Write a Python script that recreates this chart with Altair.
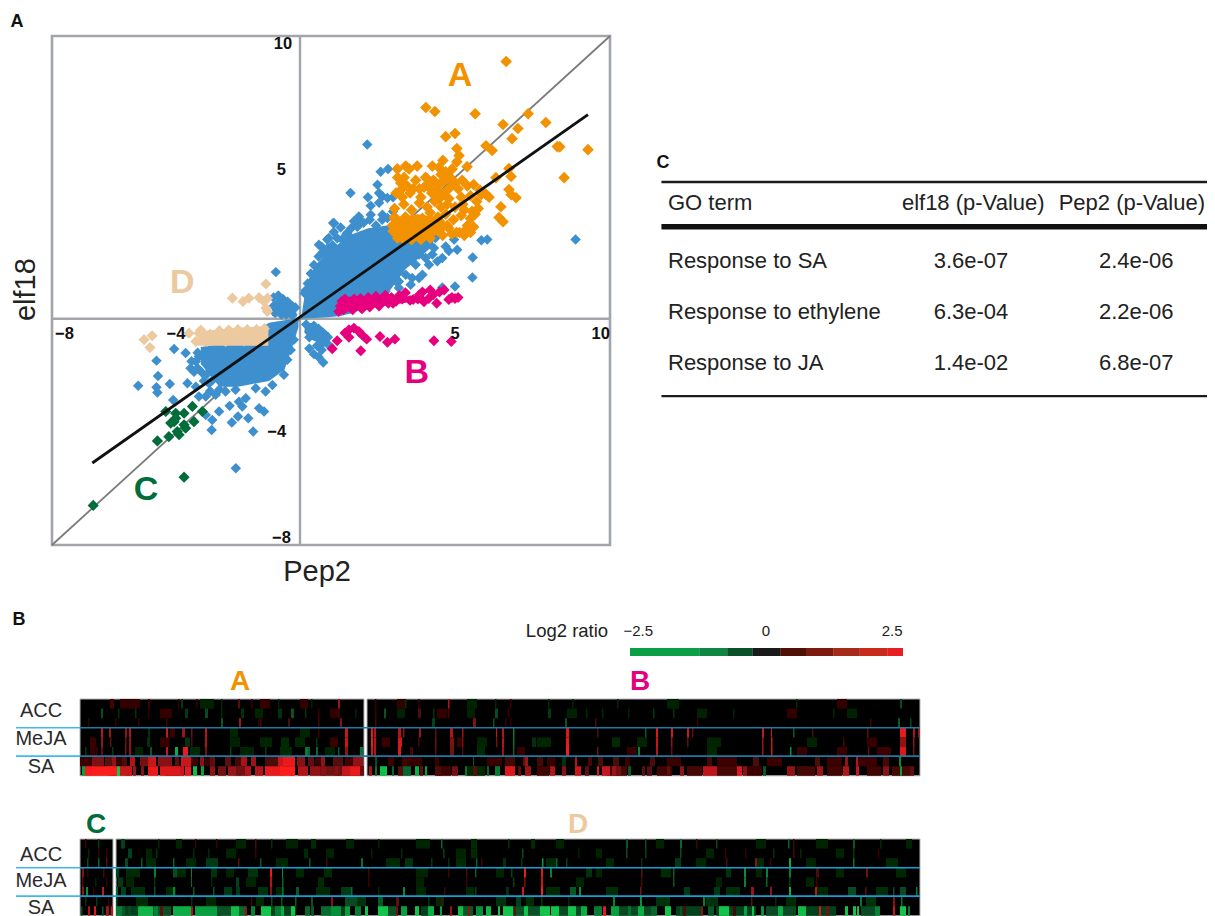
import altair as alt
import pandas as pd

# ---------- Panel A: scatter values (Pep2, elf18) ----------
orange_x = [6.65,4.06,4.35,5.65,7.36,6.55,7.03,7.93,4.7,5.0,6.84,6.0,6.2,8.3,8.38,9.29,8.52,5.06,5.13,5.06,5.39,6.74,6.81,6.32,6.74,6.81,6.97,6.48,6.42,6.55,
 3.14,3.41,3.52,3.78,4.27,4.61,4.48,4.91,3.36,3.25,3.73,4.1,4.05,4.65,4.75,5.02,5.23,
 3.1,3.3,3.55,3.9,4.2,4.4,4.6,4.85,5.1,5.4,5.6,5.8,6.0,5.5,5.2,5.25,5.7,5.85,6.1,
 3.05,3.35,3.6,3.85,4.1,4.35,4.55,4.75,5.0,5.3,5.55,5.75,
 3.1,3.4,3.7,3.95,4.2,4.45,4.7,4.95,5.2,5.4,5.6,
 3.0,3.2,3.45,3.75,4.0,4.3,4.55,4.8,5.05,5.3,5.5,
 4.5,4.6,4.7,4.8,4.55,4.7,4.85,4.35,4.5,4.25,4.4,4.15,4.3,4.0,3.85,3.65,3.45,3.25,3.15,3.05,
 3.5,3.75,4.0,4.25,4.5,4.75,3.3,3.6,3.9,4.2,4.6,4.9,5.15,2.98,3.05,3.15,5.35,5.5,5.65]
orange_y = [9.1,7.47,7.33,7.25,7.25,6.87,6.73,6.94,6.44,6.55,6.37,6.12,5.95,6.09,6.08,5.98,4.99,6.02,5.77,5.55,5.38,5.31,5.03,4.99,4.57,4.39,4.28,3.96,3.58,3.43,
 5.3,5.4,5.3,5.4,5.4,5.6,5.35,5.3,5.0,4.8,4.9,4.95,5.0,4.9,4.95,4.8,4.9,
 4.45,4.3,4.45,4.3,4.6,4.55,4.4,4.65,4.6,4.7,4.75,4.55,4.4,4.35,4.3,4.05,4.15,4.4,4.3,
 3.9,4.05,3.85,4.1,3.95,4.15,3.95,4.05,3.95,3.85,3.8,3.9,
 3.5,3.6,3.5,3.55,3.75,3.6,3.7,3.5,3.65,3.3,3.25,
 3.1,3.0,3.2,3.05,3.15,3.1,3.25,3.2,3.05,2.95,3.05,
 4.25,4.85,4.5,4.25,5.1,5.2,5.0,4.85,4.75,4.45,4.3,4.75,4.9,4.65,4.6,4.6,4.7,4.55,5.0,3.6,
 3.45,3.3,3.4,3.35,3.45,3.3,2.85,2.8,2.8,2.85,2.95,3.0,3.05,3.3,3.55,2.85,3.15,3.55,3.7]
orange_core_x = [3.0,3.2,3.8,4.4,4.8]
orange_core_top = [3.2,3.6,3.7,3.6,3.3]
orange_core_bot = [2.9,2.78,2.78,2.95,3.2]

blue_x = [-4.06,-3.69,-4.63,-4.58,-4.2,-5.22,-4.63,-4.6,-4.09,-3.53,-3.42,-3.63,-3.36,-3.26,-2.85,-2.61,-2.27,-2.0,-2.2,-1.67,-1.51,-2.07,-1.32,-1.16,-2.83,-1.86,-3.04,
 -0.78,1.07,1.09,0.88,0.7,0.73,0.95,0.18,
 2.17,2.6,2.84,2.5,2.55,1.63,2.19,2.66,2.82,3.0,2.55,2.28,2.28,1.9,1.96,1.74,1.1,1.31,2.66,2.82,3.0,1.53,1.64,0.93,0.61,0.99,
 8.89,5.85,6.04,4.97,4.7,5.07,5.57,4.43,5.56,5.0,4.59,3.84,4.27,3.62,3.95,3.19,4.16,4.59,3.84,4.37,4.8,
 -0.85,-0.7,-0.55,-0.4,-0.25,-0.15,-0.85,-0.7,-0.55,-0.4,-0.25,-0.8,-0.6,-0.45,-0.25,-0.7,-0.5,
 0.2,0.3,0.45,0.6,0.75,0.9,0.3,0.45,0.6,0.75,0.55,0.7,0.95,0.3,0.45,0.75,0.6,
 -3.3,-3.5,-3.05,-3.3,-3.0,-2.85,-2.6,-2.9,-3.1,
 -3.04,-2.72,-2.4,-2.08,-1.75,-1.97,-1.43,-1.11,-0.89,-0.52,-0.41,-0.3,-0.2,-3.26,-3.36,-3.15,-2.94,
 0.15,0.25,0.35,0.45,0.6,0.75,0.9,1.05,1.2,1.35,1.5,1.65,1.85,2.05,2.25,2.45,2.65,
 3.09,3.41,3.73,4.05,4.32,3.84,3.57,3.19,2.76]
blue_y = [-1.07,-1.21,-1.48,-2.02,-2.31,-2.37,-2.42,-2.61,-2.87,-1.75,-1.87,-2.28,-2.4,-2.75,-3.93,-3.28,-3.08,-3.46,-3.67,-3.52,-3.99,-5.29,-3.16,-3.28,-3.58,-3.1,-3.4,
 1.65,3.39,3.07,2.8,2.55,2.35,2.4,1.0,
 6.16,5.2,5.3,4.74,4.45,4.45,4.3,4.33,4.27,4.3,4.1,4.0,3.68,3.62,3.45,3.45,3.38,3.23,3.68,3.56,3.79,3.04,2.86,2.86,2.62,2.44,
 2.8,2.78,2.8,2.8,2.56,2.44,2.17,2.03,1.46,1.14,1.11,2.27,2.27,1.44,1.56,1.32,1.91,2.15,2.7,2.86,2.4,
 0.75,0.82,0.7,0.6,0.45,0.4,0.45,0.35,0.4,0.2,0.15,0.2,0.15,0.15,0.12,0.55,0.5,
 -0.2,-0.45,-0.25,-0.35,-0.5,-0.65,-0.65,-0.55,-0.7,-0.85,-0.95,-1.1,-0.95,-1.05,-1.25,-1.55,-1.35,
 -1.2,-1.5,-1.45,-1.75,-1.95,-2.2,-2.5,-2.55,-2.2,
 -2.75,-2.69,-2.57,-2.51,-2.81,-2.93,-2.46,-2.57,-2.34,-1.98,-1.45,-1.1,-0.74,-1.33,-1.51,-1.92,-2.28,
 0.9,1.25,1.6,1.9,2.2,2.35,2.5,2.6,2.85,2.8,3.0,3.2,3.25,3.4,3.5,3.3,3.5,
 1.33,1.56,1.91,2.15,2.5,1.44,1.2,1.09,0.97]
blue_pos_x = [0.05,0.2,0.5,0.9,1.3,1.7,2.2,2.8,3.4,3.9,4.3]
blue_pos_top = [0.1,1.2,1.9,2.35,2.7,3.0,3.2,3.3,3.2,3.0,2.9]
blue_pos_bot = [0.0,0.02,0.03,0.05,0.1,0.2,0.45,0.85,1.75,2.2,2.6]
blue_neg_x = [-3.2,-2.6,-2.0,-1.5,-1.0,-0.5,-0.25,-0.05]
blue_neg_top = [-1.0,-0.9,-0.7,-0.5,-0.14,-0.05,-0.02,0.0]
blue_neg_bot = [-1.6,-2.4,-2.4,-2.3,-2.2,-1.8,-1.0,-0.3]
blue_ul_x = [-0.9,-0.6,-0.3,-0.12]
blue_ul_top = [0.55,0.75,0.55,0.35]
blue_ul_bot = [0.1,0.08,0.08,0.08]
blue_lr_x = [0.15,0.4,0.7,0.95]
blue_lr_top = [-0.15,-0.15,-0.3,-0.5]
blue_lr_bot = [-0.5,-0.75,-0.9,-0.9]

pink_x = [1.25,1.3,1.35,1.45,1.5,1.6,1.7,1.75,1.85,1.95,2.0,2.1,2.2,2.25,2.35,2.45,2.55,2.65,2.75,2.85,2.95,3.1,3.2,3.3,3.4,3.55,3.65,3.8,3.85,3.95,4.0,4.15,4.2,4.3,4.41,4.5,4.65,4.8,4.9,5.0,5.1,1.4,1.65,2.8,3.0,
 1.2,1.04,1.58,1.74,1.9,1.58,2.0,2.15,1.96,2.58,2.82,3.06,4.32,4.88,1.45]
pink_y = [0.26,0.45,0.62,0.7,0.4,0.6,0.32,0.7,0.5,0.72,0.35,0.6,0.75,0.42,0.6,0.8,0.45,0.68,0.83,0.55,0.75,0.62,0.82,0.7,0.92,0.65,0.68,0.7,0.85,0.95,0.6,0.72,1.02,0.85,0.55,0.95,1.02,0.68,0.75,0.72,0.75,0.32,0.45,0.7,0.55,
 -0.78,-1.06,-0.39,-0.33,-0.45,-0.65,-0.57,-0.72,-1.13,-0.63,-0.83,-0.72,-0.78,-0.8,-0.5]
pink_core_x = [1.3,2.5,3.3,4.0]
pink_core_top = [0.6,0.72,0.78,0.85]
pink_core_bot = [0.3,0.42,0.55,0.68]

tan_x = [-1.1,-2.18,-1.84,-1.65,-1.32,-1.16,-1.05,-1.1,-1.05,-5.03,-4.77,-4.84,
 -3.58,-3.26,-3.36,-3.2,-2.9,-2.6,-2.3,-2.0,-1.7,-1.4,-1.15,-3.0,-2.7,-2.4,-2.1,-1.8,-1.5,-1.2]
tan_y = [1.23,0.73,0.61,0.73,0.75,0.61,0.73,0.38,0.26,-0.74,-0.6,-1.02,
 -0.51,-0.51,-0.8,-0.4,-0.55,-0.42,-0.4,-0.38,-0.38,-0.38,-0.35,-0.8,-0.75,-0.8,-0.75,-0.78,-0.75,-0.72]
tan_core_x = [-3.3,-2.0,-1.02]
tan_core_top = [-0.45,-0.32,-0.25]
tan_core_bot = [-0.95,-0.95,-0.95]

green_x = [-4.33,-4.01,-3.47,-3.15,-3.74,-4.06,-4.17,-3.74,-3.42,-3.96,-3.69,-4.23,-4.6,-3.74,-6.67,-4.01,-3.9]
green_y = [-3.28,-3.34,-3.1,-3.28,-3.34,-3.64,-3.69,-3.75,-3.64,-3.99,-3.87,-4.17,-4.32,-5.6,-6.6,-3.52,-4.1]

fit_x = [-6.7,9.29]
fit_y = [-5.1,7.22]
identity_v = [-8,10]

x_tick_labels = ["−8","−4","5","10"]
x_tick_pos = [-7.6,-4,5,9.7]
y_tick_labels = ["10","5","−4","−8"]
y_tick_pos = [9.7,5.25,-4,-7.75]

# ---------- Panel C: table ----------
go_terms = ["Response to SA","Response to ethylene","Response to JA"]
elf18_p = ["3.6e-07","6.3e-04","1.4e-02"]
pep2_p = ["2.4e-06","2.2e-06","6.8e-07"]
headers = ["GO term","elf18 (p-Value)","Pep2 (p-Value)"]

# ---------- Panel B: colour key ----------
key_edges = [-2.5,-1.22,-0.72,-0.25,0.25,0.74,1.22,1.71,2.21,2.5]
key_colours = ["#0a9e45","#0e8540","#0a5028","#1a1a1a","#4f1008","#7c1a10","#a52a1a","#c82a1c","#e81f22"]

# ---------- Panel B: heat-map stripes (start column, width, log2 ratio) per row ----------
A_rows = [
 [(30,4,.6),(68,2,.5),(101,2,-.6),(141,1.5,-.4),(158,2,.9),(171,1.5,.5),(258,2,1.6),(98,1.5,.4),(116,1.5,.4),(198,1.5,-.3),(231,1.5,-.3),(40,20,.25),(120,14,-.25),(180,10,.25),(220,8,.25)],
 [(21,2,-.8),(38,1.5,-.5),(55,1.5,-.5),(68,1.5,.4),(105,3,-.6),(125,3,-.8),(141,1.5,-.4),(161,3,-.5),(198,4,-.5),(211,3,-.9),(225,1.5,-.5),(238,1.5,.5),(258,1.5,.5),(275,1.5,-.3),(80,12,.25),(175,8,-.3),(250,10,.25)],
 [(8,1.5,.5),(35,1.5,.4),(58,1.5,.4),(86,1.5,.6),(141,2,-1),(159,2,1.7),(180,1.5,.7),(208,2,.8),(238,1.5,.7),(260,2,1.4),(178,1.5,.4)],
 [(21,2,1.9),(29,2,1.6),(45,2,1.5),(49,2,1.8),(86,2,2),(102,3,1.6),(111,1.5,1.2),(125,2,1.9),(265,3,2),(68,2,-.5),(238,1.5,.5),(90,5,.4),(150,8,-.3),(220,10,-.3)],
 [(21,2,1.5),(30,1.5,1.0),(45,1.5,1.2),(49,2,1.5),(111,1.5,.8),(125,2,1.8),(265,3,2),(67,3,-.5),(105,5,-.5),(201,8,-.4),(185,1.5,-.4),(236,1.5,-.5),(10,6,.4),(80,10,.25),(150,10,-.25),(180,12,-.3),(215,10,-.35),(250,8,.4)],
 [(5,1.5,-.6),(21,2,1.0),(32,1.5,-.6),(45,1.5,1.2),(49,2,1.5),(70,2,-1),(86,2,2),(95,3,-2.2),(103,5,2.3),(125,2,1.2),(150,1.5,-.7),(185,1.5,-.6),(225,3,-1.5),(228,2,-1.2),(236,2,-1.2),(258,1.5,-1.0),(265,3,1.5),(280,3,-1.4),(10,8,.3),(55,8,-.3),(110,10,-.4),(160,14,-.3),(200,12,-.4),(245,10,-.3)],
 [(12,12,1.3),(25,8,1.0),(32,4,1.5),(42,5,.8),(50,5,1.8),(60,12,1.2),(68,8,2),(78,14,1.4),(95,4,1),(101,10,2),(120,4,1.4),(130,5,1),(145,6,1),(161,6,1.7),(171,5,1.6),(185,15,.8),(198,14,2),(203,12,2.3),(217,8,1.4),(228,6,1.0),(241,4,1.5),(253,10,.9),(273,10,1.5),(0,12,.5),(35,8,.4),(110,8,.5),(125,6,.5),(155,10,.7),(235,6,.5),(265,8,.6)],
 [(2,3,-2),(5,8,2.4),(12,25,2.5),(28,4,-1.2),(31,5,.8),(37,3,-2.5),(40,12,2.0),(46,4,-1.2),(53,3,1.6),(61,3,1.4),(68,10,2.3),(80,20,2.2),(100,4,2),(102,2,1.8),(105,6,2.3),(113,4,-2.4),(121,3,-2),(130,5,1.5),(138,8,1.2),(148,8,1.6),(158,3,-1.2),(165,6,1.8),(175,8,1.8),(185,18,2.3),(200,15,2.5),(210,3,-1),(218,10,1.8),(230,10,1.5),(241,5,1.4),(255,3,1.4),(262,8,2),(270,10,2.3),(85,15,1),(155,14,1.2),(240,20,1.2),(255,29,1.1)],
]
B_rows = [
 [(81,1.5,1.8),(8,1.5,.5),(38,1.5,-.5),(51,1.5,.5),(128,1.5,-.3),(181,1.5,-.4),(205,1.5,-.3),(143,1.5,.5),(250,1.5,-.3),(429,1.5,-.4),(533,2,-.8),(30,8,.25),(100,10,-.25),(300,12,-.25),(470,10,.25)],
 [(17,2,-.9),(8,1.5,.5),(51,3,.8),(66,1.5,-.5),(81,1.5,.6),(128,3,-.8),(141,1.5,.4),(181,3,-.6),(235,1.5,-.4),(261,1.5,-.3),(286,1.5,-.6),(219,1.5,-.4),(306,1.5,-.5),(366,1.5,-.3),(466,1.5,-.3),(30,8,-.25),(70,10,.25),(100,8,-.25),(200,10,-.25),(330,10,-.25),(420,10,.25),(480,10,-.25)],
 [(8,1.5,.7),(65,3,-.7),(106,3,1.3),(126,1.5,-.9),(198,2,-.9),(228,1.5,.8),(138,1.5,.4),(531,2,-1.1),(330,1.5,.5),(503,1.5,.6),(143,1.5,.4),(543,1.5,-.8)],
 [(4,2,2.3),(7,2,1.8),(31,3,1.8),(36,1.5,1.4),(52,2,1.6),(68,1.5,1),(83,3,1.8),(95,1.5,1.6),(129,1,2),(135,2,1.8),(146,1.5,-1.5),(199,3,2.2),(230,1.5,.9),(278,1.5,-1.0),(289,2,2.2),(304,2,2.1),(320,2,2),(325,1.5,1.0),(395,2,2),(404,1,2.1),(426,1.5,-1),(445,1.5,.8),(500,1.5,1.0),(533,6,2.3),(546,2,1.8),(551,1.5,1.5)],
 [(4,2,2.3),(7,2,1.8),(31,4,2.1),(51,1.5,.7),(68,1.5,1.2),(83,4,1.3),(95,1.5,1.2),(129,1.5,1.2),(135,2,1.8),(146,1.5,-1.4),(165,4,-.5),(199,3,2.3),(245,8,-.4),(289,2,2),(304,1.5,1.5),(320,1.5,1),(395,1.5,1.7),(404,1.5,2),(476,1.5,.6),(533,6,1.5),(546,1.5,1.5),(15,8,.4),(90,6,.4),(110,10,-.3),(170,14,-.35),(270,10,-.3),(340,14,-.3),(440,10,-.3),(500,10,.35)],
 [(4,2,2.1),(7,2,1.8),(31,3,2.2),(43,3,.7),(68,1.5,1.0),(83,4,1.2),(95,1.5,.8),(135,2,1.6),(146,1.5,-1.1),(199,3,2.4),(230,1.5,1.2),(271,2,-1.6),(289,2,1.8),(304,1.5,1.0),(395,1.5,1.6),(404,1.5,2.1),(423,1.5,-1.8),(501,1.5,1.0),(533,6,2.2),(546,1.5,1.2),(110,8,-.4),(150,8,.35),(260,10,.35),(340,10,-.35),(430,10,.4),(470,10,.4),(510,14,.5)],
 [(8,2,-.8),(21,6,.5),(35,5,.6),(68,4,.5),(106,1,-1),(138,10,.7),(158,3,1.6),(208,2,1.8),(195,4,-.5),(231,5,.8),(258,5,.5),(221,4,.7),(156,4,1),(170,6,.7),(246,6,.8),(283,5,.8),(340,5,.7),(386,6,.8),(448,5,.8),(478,3,1.5),(489,2,1.8),(516,6,.7),(532,2,-1.7),(40,15,.4),(120,15,.4),(180,8,.4),(300,14,.4),(350,20,.5),(400,15,.4),(460,15,.5),(490,20,.5)],
 [(2,3,1.7),(8,2,-1.4),(13,5,-2.4),(18,2,-2.5),(25,2,-1.2),(31,5,.9),(36,8,-1.2),(48,4,-2.2),(53,3,1.0),(58,2,-2),(68,6,.8),(85,6,1.2),(98,2,-1.4),(106,4,.9),(120,2,-1.2),(128,5,-1.5),(138,10,2.2),(143,2,-1.8),(151,3,1.0),(158,6,1.6),(183,5,1.8),(195,4,1.4),(208,6,2),(218,4,1),(235,8,2),(245,4,1.6),(261,3,-1),(275,3,1),(313,4,1.5),(336,14,1.9),(370,5,2.2),(376,4,1.4),(396,3,-1),(420,8,1.5),(450,6,1.6),(476,6,1.8),(489,3,2),(516,6,1.4),(533,2,-2),(543,4,1),(300,3,1),(280,5,.9),(246,8,1.2),(230,2,2.2),(70,14,.6),(100,18,-.4),(170,12,.6),(240,20,.7),(290,15,.6),(320,15,.7),(350,20,.7),(380,15,.5),(430,18,.7),(460,15,.6),(500,14,.6),(525,18,.7)],
]
C_rows = [
 [(5,1.5,.5),(18,1.5,-.6)],
 [(8,1.5,-.4),(18,1.5,.4),(26,1.5,.5)],
 [(7,1.5,-.8),(18,1.5,-1.2),(26,1.5,1)],
 [(2,2,1.3),(7,1.5,.5),(23,1.5,.7)],
 [(2,1.5,.9),(15,1.5,-.3),(26,1.5,.4)],
 [(2,2,1.5),(6,2,-1.8),(22,2,2.0),(13,1.5,.4)],
 [(5,1.5,-.5),(16,1.5,-.6),(28,1.5,.4)],
 [(1,1.5,-.8),(8,2,1.8),(14,2,2.2),(22,1.5,-1),(26,3,1.6),(31,2,2)],
]
D_rows = [
 [(5,4,-.7),(42,1.5,-.4),(79,1.5,.5),(100,1.5,.5),(139,1.5,.8),(155,1.5,-.5),(195,5,-.4),(262,1.5,-.3),(325,1.5,-1.2),(355,6,-.4),(392,1.5,-.5),(415,4,-.4),(510,2,-1),(529,1.5,-.8),(564,2,-1.2),(580,1.5,.6),(600,1.5,-.8),(672,1.5,-1.2),(677,1.5,.6),(737,2,-1),(764,1.5,-.4),(60,6,-.3),(120,10,-.3),(170,12,-.25),(230,8,-.3),(300,14,-.3),(440,8,-.3),(540,8,-.3),(640,10,-.25),(700,12,-.3),(790,6,-.3)],
 [(12,4,-.7),(40,1.5,-.5),(77,1.5,-.4),(92,1.5,-.4),(139,1.5,.5),(188,4,-.4),(255,1.5,-.3),(285,1.5,-.4),(327,1.5,-.7),(355,6,-.4),(406,1.5,-.8),(462,1.5,-.3),(510,1.5,-.8),(529,1.5,-.7),(564,1.5,-.8),(609,1.5,.5),(629,1.5,.5),(657,1.5,-.5),(677,1.5,.7),(684,1.5,-.4),(737,1.5,-.6),(762,1.5,.4),(30,6,-.3),(110,10,-.3),(210,8,-.25),(340,10,-.3),(480,6,-.25),(590,8,-.3),(720,8,-.25)],
 [(9,3,-.8),(25,1.5,-1),(57,1.5,-1.2),(90,12,-.6),(122,1.5,1),(144,1.5,-1),(193,1.5,-1.0),(210,1.5,.7),(245,2,-1.4),(289,8,-.5),(315,1.5,-.6),(332,1.5,-.5),(360,1.5,-1.1),(365,1.5,.6),(387,3,-.5),(405,1.5,-.6),(426,1.5,-1.9),(440,1.5,-1.2),(450,1.5,-.7),(525,1.5,-.5),(559,6,-.6),(610,1.5,.8),(639,2,1.4),(654,1.5,.6),(673,2,-2.2),(737,1.5,-1.4),(30,10,-.4),(70,10,-.35),(160,12,-.35),(270,14,-.4),(340,10,-.4),(430,10,-.4),(490,8,-.35),(580,10,-.35),(640,8,-.4),(690,10,-.3),(770,12,-.4)],
 [(0,3,-.7),(38,2,-1.5),(57,4,-.8),(75,1,-1.5),(95,6,-.5),(132,10,-.5),(154,2,2.3),(166,1,-1.8),(208,8,-.4),(252,1.5,.6),(332,1.5,.6),(350,1.5,.8),(359,1.5,-1),(408,2,2.3),(425,2,2.2),(434,2,-1.6),(395,1.5,-.7),(470,6,-.5),(525,1.5,1),(557,1.5,-1.1),(628,2,-1.8),(650,2,-1.6),(673,2,-1.5),(700,3,.8),(750,2,1.2),(610,5,-.5),(10,14,-.4),(60,10,-.35),(110,8,-.3),(180,8,-.35),(300,12,-.3),(380,8,-.3),(480,6,-.3),(545,10,-.4),(640,6,-.3),(720,8,-.3),(780,10,-.35)],
 [(2,5,-.6),(38,1.5,-.5),(75,1,-1.3),(95,1.5,-.4),(120,3,-.7),(154,2,1.8),(166,1.5,-1.2),(202,6,-.4),(252,1.5,.5),(350,1.5,.5),(408,1.5,1.2),(425,2,2),(397,1.5,-.7),(525,1.5,.7),(557,1.5,-.9),(628,2,-1.6),(650,1.5,-1.2),(673,1.5,-.7),(700,1.5,.5),(10,8,-.3),(130,10,-.3),(300,8,-.25),(460,8,-.3),(600,6,-.25),(690,8,-.3)],
 [(0,2,-1.2),(5,5,-.7),(38,1.5,-.9),(57,2,-1.6),(77,1.5,-1),(97,1.5,-.9),(108,8,-.6),(120,4,-.6),(142,10,-.5),(154,2,1.4),(166,1.5,-1.4),(180,3,-1),(225,10,-.6),(235,1.5,-1.3),(287,2,-1.7),(262,1.5,-.4),(328,1.5,.6),(359,1.5,-.7),(406,2,2.1),(425,2,2.5),(390,3,-.5),(454,6,-1),(463,2,-1.8),(524,1.5,1.3),(568,6,-.6),(598,6,-.6),(635,3,1.6),(654,2,1.5),(673,2,-2.2),(699,2,1.9),(732,8,-.8),(749,1.5,1),(777,1.5,-.8),(784,6,-.8),(800,1.5,-1.6),(15,14,-.45),(50,10,-.4),(160,8,-.35),(200,14,-.4),(300,10,-.35),(350,8,-.4),(430,14,-.4),(490,12,-.45),(610,14,-.45),(700,12,-.35),(760,12,-.45)],
 [(0,1.5,-.8),(22,1.5,.4),(75,1.5,-.5),(135,1.5,.6),(155,1.5,-.8),(165,1.5,-.9),(179,1.5,-1),(195,2,-.9),(215,2,1.4),(229,12,-.8),(262,5,-1),(280,3,1),(312,1.5,-.5),(325,1.5,.8),(400,5,-.7),(425,1.5,-.6),(452,1.5,-.4),(497,2,-1.6),(524,2,-1.8),(587,2,-1.5),(635,1.5,1),(659,1.5,-.4),(744,2,-1.4),(777,2,1.4),(785,1.5,-1.4),(20,12,-.4),(90,10,-.35),(140,8,-.4),(240,10,-.5),(320,8,-.4),(380,10,-.5),(410,8,-.45),(540,14,-.5),(590,12,-.5),(670,10,-.4),(750,10,-.5)],
 [(0,6,-1.5),(4,5,-1),(12,3,-.8),(22,15,-2.3),(38,4,-1.6),(44,3,1),(57,18,-2.2),(75,2,1.8),(79,22,-2),(102,3,.8),(115,8,-2.4),(122,8,-1.2),(129,2,1.5),(135,4,-1.6),(145,10,-2.5),(159,6,-1.5),(165,3,-2.2),(175,4,-2.5),(189,5,-1.2),(195,3,-1),(205,12,-1.3),(215,10,-1.8),(229,5,-2),(239,6,-1.5),(249,3,-2.5),(262,10,-2.5),(280,2,1.2),(285,6,-2),(299,4,-2.5),(312,6,-2.2),(324,2,-2),(334,2,1.5),(342,5,-2.4),(352,2,1.5),(360,7,-1.8),(370,5,-2.3),
  (382,2,-2.5),(387,10,-2.5),(398,2,1),(408,4,-2.5),(424,10,-2.5),(435,8,-2.5),(452,8,-2.5),(465,6,-2.2),(478,8,-1.5),(487,3,2.3),(495,8,-2),(512,3,-1.4),(522,6,-2.2),(535,6,-1.2),(549,6,-2.5),(564,2,-1),(567,3,.8),(585,2,1.4),(592,6,-1),(603,10,-2.5),(617,3,.7),(628,3,-2),(636,2,-2.5),(645,3,-1.8),(662,5,-2.2),(682,8,-2.4),(703,2,2.2),(710,3,1.2),(729,3,-2.5),(737,3,-2.5),(741,2,-2.5),(759,5,-1.6),(777,2,2),(784,6,-2.5),(792,2,-1.5),
  (6,16,-.7),(37,18,-.9),(100,15,-.9),(155,25,-.7),(217,12,-.7),(270,10,-.9),(305,10,-.7),(345,12,-1.0),(397,30,-.9),(440,25,-.8),(500,35,-.8),(560,25,-.7),(600,40,-.7),(650,30,-.8),(690,30,-.7),(745,15,-.8)],
]

# ---------- helpers ----------
SANS = "Liberation Sans"
sx = alt.Scale(domain=[-8,10], range=[44,602])
sy = alt.Scale(domain=[-8,10], range=[537,28])
tx = alt.Scale(domain=[0,1], range=[660,1207])
ty = alt.Scale(domain=[1,3], range=[253,355])
lx = alt.Scale(domain=[-2.5,2.5], range=[622,895])
ly = alt.Scale(domain=[0,1], range=[640,648])
hx = alt.Scale(domain=[0,840], range=[72,912])
hy1 = alt.Scale(domain=[0,8], range=[691,767.8])
hy2 = alt.Scale(domain=[0,8], range=[831,907.8])
heat_colour = alt.Scale(domain=[-2.5,-0.8,0,0.8,2.5],
                        range=["#12c54a","#0a4a22","#000000","#4a0d0a","#ff1c1c"], clamp=True)


def XQ(f, s):
    return alt.X(f, type="quantitative", scale=s, axis=None)


def YQ(f, s):
    return alt.Y(f, type="quantitative", scale=s, axis=None)


def points(xs, ys, colour, size=120):
    return alt.Chart(pd.DataFrame({"x": xs, "y": ys})).mark_point(
        shape="diamond", filled=True, size=size, opacity=1, color=colour
    ).encode(x=XQ("x", sx), y=YQ("y", sy))


def mass(xs, top, bot, colour):
    return alt.Chart(pd.DataFrame({"x": xs, "t": top, "b": bot})).mark_area(color=colour, opacity=1).encode(
        x=XQ("x", sx), y=YQ("t", sy), y2=alt.Y2("b"))


def text(labels, xs, ys, scx, scy, **kw):
    opts = dict(font=SANS, baseline="middle", align="center")
    opts.update(kw)
    return alt.Chart(pd.DataFrame({"x": xs, "y": ys, "t": labels})).mark_text(**opts).encode(
        x=XQ("x", scx), y=YQ("y", scy), text="t:N")


def line(xs, ys, colour, w):
    return alt.Chart(pd.DataFrame({"x": xs, "y": ys})).mark_line(color=colour, strokeWidth=w).encode(
        x=XQ("x", sx), y=YQ("y", sy))


def hrule(x0, x1, y, scx, scy, colour, w):
    return alt.Chart(pd.DataFrame({"x": [x0], "x2": [x1], "y": [y]})).mark_rule(color=colour, strokeWidth=w).encode(
        x=XQ("x", scx), x2=alt.X2("x2"), y=YQ("y", scy))


GRID = "#a2a5a9"
BLUE = "#3d8fcd"
frame = alt.Chart(pd.DataFrame({"x": [-8], "x2": [10], "y": [-8], "y2": [10]})).mark_rect(
    fillOpacity=0, stroke=GRID, strokeWidth=2.6).encode(
    x=XQ("x", sx), x2=alt.X2("x2"), y=YQ("y", sy), y2=alt.Y2("y2"))
axis_h = hrule(-8, 10, 0, sx, sy, GRID, 2.4)
axis_v = alt.Chart(pd.DataFrame({"x": [0], "y": [-8], "y2": [10]})).mark_rule(color=GRID, strokeWidth=2.4).encode(
    x=XQ("x", sx), y=YQ("y", sy), y2=alt.Y2("y2"))

scatter = alt.layer(
    frame, axis_h, axis_v,
    line(identity_v, identity_v, "#7b7b7b", 1.8),
    mass(blue_pos_x, blue_pos_top, blue_pos_bot, BLUE),
    mass(blue_neg_x, blue_neg_top, blue_neg_bot, BLUE),
    mass(blue_ul_x, blue_ul_top, blue_ul_bot, BLUE),
    mass(blue_lr_x, blue_lr_top, blue_lr_bot, BLUE),
    points(blue_x, blue_y, BLUE, 110),
    mass(orange_core_x, orange_core_top, orange_core_bot, "#f39200"),
    points(orange_x, orange_y, "#f39200", 135),
    mass(pink_core_x, pink_core_top, pink_core_bot, "#e6007e"),
    points(pink_x, pink_y, "#e6007e", 120),
    mass(tan_core_x, tan_core_top, tan_core_bot, "#edc9a0"),
    points(tan_x, tan_y, "#edc9a0", 125),
    points(green_x, green_y, "#006d3a", 125),
    line(fit_x, fit_y, "#111111", 2.8),
    text(x_tick_labels, x_tick_pos, [-0.55]*4, sx, sy, fontSize=16.5, fontWeight="bold", color="#111"),
    text(y_tick_labels, [-0.55, -0.6, -0.75, -0.6], y_tick_pos, sx, sy, fontSize=16.5, fontWeight="bold", color="#111"),
    text(["A"], [5.16], [8.57], sx, sy, fontSize=34, fontWeight="bold", color="#f39200"),
    text(["B"], [3.77], [-1.9], sx, sy, fontSize=34, fontWeight="bold", color="#e6007e"),
    text(["C"], [-4.97], [-6.05], sx, sy, fontSize=34, fontWeight="bold", color="#006d3a"),
    text(["D"], [-3.8], [1.27], sx, sy, fontSize=34, fontWeight="bold", color="#edc9a0"),
    text(["Pep2"], [0.55], [-8.96], sx, sy, fontSize=29, color="#222"),
    text(["elf18"], [-8.84], [1.03], sx, sy, fontSize=29, color="#222", angle=270),
    text(["A"], [-9.13], [10.48], sx, sy, fontSize=18, fontWeight="bold", color="#111"),
)

table = alt.layer(
    hrule(-0.012, 1, -0.55, tx, ty, "#1c1c1c", 2.6),
    hrule(-0.012, 1, 0.33, tx, ty, "#111111", 5.5),
    hrule(-0.012, 1, 3.65, tx, ty, "#1c1c1c", 2.4),
    text(["C"], [-0.009], [-0.92], tx, ty, fontSize=18, fontWeight="bold", color="#111"),
    text(headers[:1], [0], [-0.14], tx, ty, fontSize=22, color="#222", align="left"),
    text(headers[1:], [0.558, 0.848], [-0.14, -0.14], tx, ty, fontSize=22, color="#222"),
    text(go_terms, [0]*3, [1, 2, 3], tx, ty, fontSize=22, color="#222", align="left"),
    text(elf18_p, [0.554]*3, [1, 2, 3], tx, ty, fontSize=22, color="#222"),
    text(pep2_p, [0.856]*3, [1, 2, 3], tx, ty, fontSize=22, color="#222"),
)

key_df = pd.DataFrame({"a": key_edges[:-1], "b": key_edges[1:], "i": [f"{k}" for k in range(len(key_colours))]})
key_bar = alt.Chart(key_df.assign(y0=[0]*9, y1=[1]*9)).mark_rect().encode(
    x=XQ("a", lx), x2=alt.X2("b"), y=YQ("y0", ly), y2=alt.Y2("y1"),
    color=alt.Color("i:N", scale=alt.Scale(domain=list(key_df["i"]), range=key_colours), legend=None))
key = alt.layer(
    key_bar,
    text(["−2.5", "0", "2.5"], [-2.35, -0.01, 2.3], [-2.1]*3, lx, ly, fontSize=15, color="#222"),
    text(["Log2 ratio"], [-2.9], [-2.1], lx, ly, fontSize=18.5, color="#222", align="right"),
)


def heat(blocks, scy, labels, label_rows, letters, inner_line):
    parts = []
    bg = pd.DataFrame([{"x": o, "x2": o + w, "y": 0, "y2": 8} for o, w, _ in blocks])
    parts.append(alt.Chart(bg).mark_rect(color="#000000", stroke="#b5b5b5", strokeWidth=1).encode(
        x=XQ("x", hx), x2=alt.X2("x2"), y=YQ("y", scy), y2=alt.Y2("y2")))
    rows = []
    for offset, width, stripes in blocks:
        for r, row in enumerate(stripes):
            for start, w, v in row:
                rows.append({"x": offset + start, "x2": min(offset + start + w, offset + width),
                             "y": r, "y2": r + 1, "v": v})
    parts.append(alt.Chart(pd.DataFrame(rows).sort_values("v", key=abs)).mark_rect().encode(
        x=XQ("x", hx), x2=alt.X2("x2"), y=YQ("y", scy), y2=alt.Y2("y2"),
        color=alt.Color("v:Q", scale=heat_colour, legend=None)))
    for yv in [3.0, 5.95]:
        parts.append(hrule(-64, 0, yv, hx, scy, "#3fb8ea", 1.6))
        parts.append(hrule(0, 840, yv, hx, scy, inner_line, 1.6))
    parts.append(text(labels, [-39, -39, -39], label_rows, hx, scy, fontSize=20, color="#2a2a2a"))
    for lab, lx_, ly_, c in letters:
        parts.append(text([lab], [lx_], [ly_], hx, scy, fontSize=28, fontWeight="bold", color=c))
    return alt.layer(*parts)


heat_top = heat([(0, 284, A_rows), (287, 553, B_rows)], hy1, ["ACC", "MeJA", "SA"], [1.25, 4.17, 7.08],
                [("A", 160, -1.77, "#f39200"), ("B", 560, -1.77, "#e6007e")], "#1b7aa8")
heat_top = alt.layer(heat_top, text(["B"], [-61], [-8.23], hx, hy1, fontSize=18, fontWeight="bold", color="#111"))
heat_low = heat([(0, 33, C_rows), (36, 804, D_rows)], hy2, ["ACC", "MeJA", "SA"], [1.67, 4.4, 7.2],
                [("C", 16, -1.46, "#006d3a"), ("D", 498, -1.46, "#edc9a0")], "#159fd8")

chart = alt.layer(scatter, table, key, heat_top, heat_low).resolve_scale(
    x="independent", y="independent", color="independent"
).properties(
    width=1199, height=908, padding=0,
    autosize=alt.AutoSizeParams(type="none"), background="white"
).configure_view(stroke=None)

chart.save("out.html", embed_options={"renderer": "svg", "actions": False})
